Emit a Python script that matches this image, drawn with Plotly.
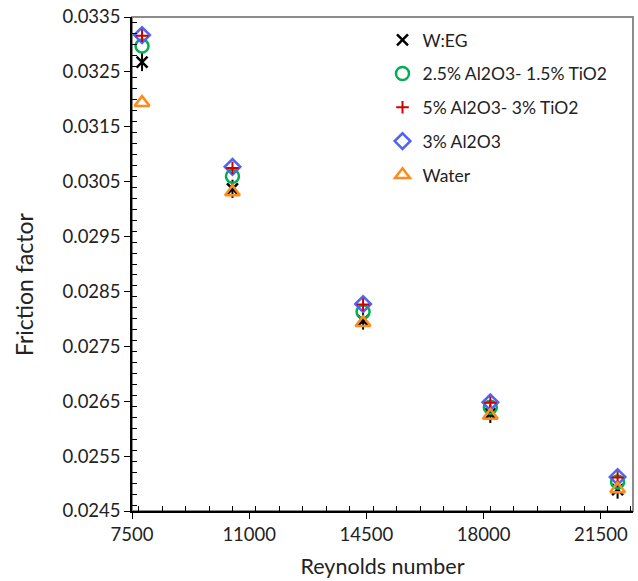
import plotly.graph_objects as go

# Reynolds numbers of the test runs
reynolds = [7800, 10500, 14400, 18200, 22000]

# Friction factor for each working fluid
f_weg = [0.03268, 0.03037, 0.02797, 0.02627, 0.02489]
f_hybrid_low = [0.03297, 0.03060, 0.02813, 0.02639, 0.02503]
f_hybrid_high = [0.03316, 0.03075, 0.02826, 0.02647, 0.02511]
f_al2o3 = [0.03317, 0.03077, 0.02827, 0.02648, 0.02512]
f_water = [0.03194, 0.03031, 0.02793, 0.02624, 0.02490]

FONT = "Lato"

fig = go.Figure()

# W:EG star drawn as an x with a vertical stroke
fig.add_trace(go.Scatter(
    x=reynolds, y=f_weg, mode="markers", name="W:EG", legendgroup="a",
    legendrank=1,
    marker=dict(symbol="x-thin-open", size=11, color="black",
                line=dict(width=2.5, color="black")),
))
fig.add_trace(go.Scatter(
    x=reynolds, y=f_weg, mode="markers", name="W:EG", legendgroup="a",
    showlegend=False,
    marker=dict(symbol="line-ns-open", size=13, color="black",
                line=dict(width=2, color="black")),
))
fig.add_trace(go.Scatter(
    x=reynolds, y=f_hybrid_low, mode="markers",
    name="2.5% Al2O3- 1.5% TiO2", legendgroup="b", legendrank=2,
    marker=dict(symbol="circle-open", size=13, color="#00B050",
                line=dict(width=2.5, color="#00B050")),
))
fig.add_trace(go.Scatter(
    x=reynolds, y=f_al2o3, mode="markers",
    name="3% Al2O3", legendgroup="d", legendrank=4,
    marker=dict(symbol="diamond-open", size=12, color="#4F63F5",
                line=dict(width=2.5, color="#4F63F5")),
))
fig.add_trace(go.Scatter(
    x=reynolds, y=f_hybrid_high, mode="markers",
    name="5% Al2O3- 3% TiO2", legendgroup="c", legendrank=3,
    marker=dict(symbol="cross-thin-open", size=9, color="#D00000",
                line=dict(width=2, color="#D00000")),
))
fig.add_trace(go.Scatter(
    x=reynolds, y=f_water, mode="markers", name="Water", legendgroup="e",
    legendrank=5,
    marker=dict(symbol="triangle-up-open", size=13, color="#FF8C1A",
                line=dict(width=2.5, color="#FF8C1A")),
))

fig.update_layout(
    width=638, height=581,
    margin=dict(l=132, r=5, t=14, b=70),
    paper_bgcolor="white", plot_bgcolor="white",
    font=dict(family=FONT, size=18, color="#222222"),
    showlegend=True,
    legend=dict(
        x=0.5, y=0.99, xanchor="left", yanchor="top",
        traceorder="grouped", tracegroupgap=8,
        font=dict(family=FONT, size=17.5, color="#222222"),
        bgcolor="rgba(0,0,0,0)", itemwidth=30,
    ),
    shapes=[dict(type="rect", xref="paper", yref="paper", x0=0, x1=1,
                 y0=0, y1=1, line=dict(color="#8C8C8C", width=2),
                 layer="below")],
    # vertical axis title, set slightly below the middle of the axis
    annotations=[dict(
        text="Friction factor", textangle=-90, showarrow=False,
        xref="paper", yref="paper", x=-0.216, y=0.459,
        xanchor="center", yanchor="middle",
        font=dict(family=FONT, size=23, color="#222222"),
    )],
)

fig.update_xaxes(
    range=[7500, 22460], tick0=7500, dtick=3500, tickformat="d",
    showgrid=False, zeroline=False,
    showline=True, linecolor="black", linewidth=1.5,
    ticks="outside", ticklen=6, tickcolor="black", tickwidth=1.2,
    minor=dict(dtick=700, ticks="inside", ticklen=5,
               tickcolor="black", tickwidth=1),
    tickfont=dict(family=FONT, size=18.5),
    title=dict(text="Reynolds number", font=dict(family=FONT, size=21.5),
               standoff=15),
)
fig.update_yaxes(
    range=[0.0245, 0.0335], tick0=0.0245, dtick=0.001,
    tickformat=".4f",
    showgrid=False, zeroline=False,
    showline=True, linecolor="black", linewidth=1.5,
    ticks="outside", ticklen=6, tickcolor="black", tickwidth=1.2,
    minor=dict(dtick=0.0002, ticks="inside", ticklen=5,
               tickcolor="black", tickwidth=1),
    tickfont=dict(family=FONT, size=18.5),
)

fig.write_html("out.html")
